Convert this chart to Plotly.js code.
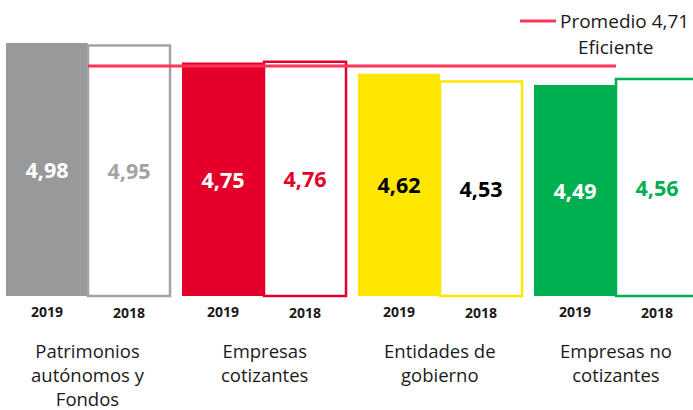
<!DOCTYPE html>
<html>
<head>
<meta charset="utf-8">
<script src="https://cdn.plot.ly/plotly-3.0.1.min.js"></script>
<style>html,body{margin:0;padding:0;background:#fff;}#chart{width:693px;height:410px;}</style>
</head>
<body>
<div id="chart"></div>
<script>
var categories = ['Patrimonios<br>autónomos y<br>Fondos', 'Empresas<br>cotizantes', 'Entidades de<br>gobierno', 'Empresas no<br>cotizantes'];
var values2019 = [4.98, 4.75, 4.62, 4.49];
var values2018 = [4.95, 4.76, 4.53, 4.56];
var average = 4.71;
var averageLabel = 'Promedio 4,71';
var averageLabel2 = 'Eficiente';
var yearLabels = ['2019', '2018'];

var fill2019 = ['#98999b', '#e4002b', '#ffe600', '#00b050'];
var text2019Color = ['#ffffff', '#ffffff', '#000000', '#ffffff'];
var line2018 = ['#a3a3a3', '#e4002b', '#ffe600', '#00b050'];
var text2018Color = ['#a3a3a3', '#e4002b', '#000000', '#00b050'];

var BASE = 2.03;
var FONT = '"Open Sans", sans-serif';
function fmt(v){ return v.toFixed(2).replace('.', ','); }
var catKeys = categories.map(function(c, i){ return 'c' + i; });

var traces = [
  {
    type: 'bar', name: '2019', x: catKeys,
    y: values2019.map(function(v){ return v - BASE; }), base: BASE,
    marker: {color: fill2019, line: {width: 0}},
    text: values2019.map(fmt), textposition: 'inside', insidetextanchor: 'middle',
    textangle: 0, constraintext: 'none',
    textfont: {family: FONT, size: 21.5, weight: 'bold', color: text2019Color},
    hoverinfo: 'skip'
  },
  {
    type: 'bar', name: '2018', x: catKeys,
    y: values2018.map(function(v){ return v - BASE; }), base: BASE,
    marker: {color: '#ffffff', line: {width: 2.5, color: line2018}},
    text: values2018.map(fmt), textposition: 'inside', insidetextanchor: 'middle',
    textangle: 0, constraintext: 'none',
    textfont: {family: FONT, size: 21.5, weight: 'bold', color: text2018Color},
    hoverinfo: 'skip'
  },
  {
    type: 'scatter', mode: 'lines', name: averageLabel,
    x: [catKeys[0], catKeys[catKeys.length - 1]], y: [average, average],
    line: {color: '#fe3358', width: 3}, hoverinfo: 'skip'
  }
];

var PH = 300; // plot height px
function py(px){ return (PH - px) / PH; }

var annotations = [];
catKeys.forEach(function(k, i){
  annotations.push({x: k, xref: 'x', y: py(311), yref: 'paper', xshift: -41, text: yearLabels[0],
    showarrow: false, yanchor: 'middle', font: {family: FONT, size: 14, weight: 'bold', color: '#1a1a1a'}});
  annotations.push({x: k, xref: 'x', y: py(312), yref: 'paper', xshift: 41, text: yearLabels[1],
    showarrow: false, yanchor: 'middle', font: {family: FONT, size: 14, weight: 'bold', color: '#1a1a1a'}});
  annotations.push({x: k, xref: 'x', y: py(336), yref: 'paper', text: categories[i],
    showarrow: false, yanchor: 'top', align: 'center', font: {family: FONT, size: 18.5, color: '#1a1a1a'}});
});
annotations.push({x: 558/693, xref: 'paper', y: py(21), yref: 'paper', text: averageLabel, showarrow: false,
  xanchor: 'left', yanchor: 'middle', font: {family: FONT, size: 19, color: '#1a1a1a'}});
annotations.push({x: 615/693, xref: 'paper', y: py(47), yref: 'paper', text: averageLabel2, showarrow: false,
  xanchor: 'center', yanchor: 'middle', font: {family: FONT, size: 19, color: '#1a1a1a'}});

var layout = {
  width: 693, height: 410,
  margin: {l: 0, r: 0, t: 0, b: 110, pad: 0},
  paper_bgcolor: '#ffffff', plot_bgcolor: '#ffffff',
  showlegend: false,
  barmode: 'group', bargap: 0.068, bargroupgap: 0,
  xaxis: {type: 'category', range: [-0.5, 3.4375], showticklabels: false, showgrid: false,
    zeroline: false, showline: false, ticks: ''},
  yaxis: {range: [BASE - 4/85.8, BASE - 4/85.8 + PH/85.8], showticklabels: false, showgrid: false,
    zeroline: false, showline: false, ticks: ''},
  annotations: annotations,
  shapes: [{type: 'line', xref: 'paper', yref: 'paper', x0: 520/693, x1: 556/693, y0: py(21), y1: py(21),
    line: {color: '#fe3358', width: 3}}]
};

Plotly.newPlot('chart', traces, layout, {displayModeBar: false, staticPlot: true});
</script>
</body>
</html>
